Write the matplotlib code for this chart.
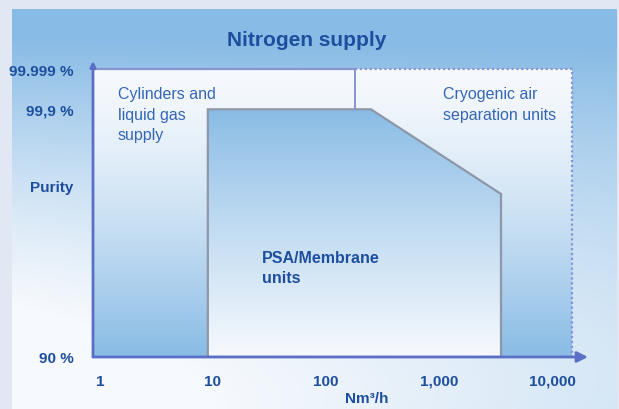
import numpy as np
import matplotlib
matplotlib.use('Agg')
import matplotlib.pyplot as plt
from matplotlib.patches import Polygon, Rectangle

plt.rcParams['font.family'] = ['Liberation Sans', 'DejaVu Sans']

# data (x in Nm3/h on a log scale, y in a schematic purity scale: 0 = 90 %, 1 = 99.999 %)
x_ticks = [1, 10, 100, 1000, 10000]
x_tick_labels = ['1', '10', '100', '1,000', '10,000']
y_ticks = [0, 0.86, 1.0]
y_tick_labels = ['90 %', '99,9 %', '99.999 %']
purity_label_y = 0.594

psa_x = [9, 9, 250, 3540, 3540]
psa_y = [0, 0.86, 0.86, 0.566, 0]
region_right = 15000   # right edge of the cryogenic field
divider_x = 180        # line between cylinders and cryogenic at the top
region_top = 1.0

W, H = 619, 410
dark = '#1d4f9e'
label_col = '#3566b6'
axis_col = '#5b6fc6'
blue = np.array([0x88, 0xbb, 0xe5]) / 255
white = np.array([0xf6, 0xf9, 0xfd]) / 255

fig = plt.figure(figsize=(W / 100, H / 100), dpi=100)
fig.patch.set_facecolor('#e1e8f4')

# outer panel with gradient
bg = fig.add_axes([12 / W, 0, 605 / W, 400 / H])
bg.axis('off')
yy, xx = np.mgrid[0:1:200j, 0:1:200j]
b = np.clip((1 - yy) ** 1.6 * 1.3 + 0.45 * xx * yy - 0.15, 0, 1)
img = white[None, None, :] * (1 - b[..., None]) + blue[None, None, :] * b[..., None]
bg.imshow(img, extent=[0, 1, 0, 1], aspect='auto', origin='upper')
bg.set_xlim(0, 1)
bg.set_ylim(0, 1)

# main axes: y-axis at px 93, x arrow tip at px 588, x-axis at px 358, y arrow tip at px 62
ax = fig.add_axes([93 / W, (H - 358) / H, (588 - 93) / W, (358 - 62) / H])
ax.set_xscale('log')
ax.set_xlim(10 ** -0.062, 10 ** 4.319)
ax.set_ylim(0, (358 - 62) / 288)
ax.patch.set_alpha(0)
for s in ax.spines.values():
    s.set_visible(False)

# white -> blue gradient over the whole field
field = Rectangle((ax.get_xlim()[0], 0), region_right - ax.get_xlim()[0], region_top,
                  transform=ax.transData, facecolor='none', edgecolor='none')
ax.add_patch(field)
t = np.linspace(0, 1, 256) ** 1.4
grad = white[None, :] * (1 - t[:, None]) + blue[None, :] * t[:, None]
top_frac = region_top / ax.get_ylim()[1]
im1 = ax.imshow(grad[:, None, :], extent=[0, 1, 0, top_frac], transform=ax.transAxes,
                aspect='auto', origin='upper', zorder=1)
im1.set_clip_path(field)

# PSA / membrane polygon: blue -> white
psa = Polygon(np.column_stack([psa_x, psa_y]), closed=True, transform=ax.transData,
              facecolor='none', edgecolor='#8d97a8', lw=1.6, zorder=3)
ax.add_patch(psa)
t2 = np.linspace(0, 1, 256) ** 0.9
grad2 = blue[None, :] * (1 - t2[:, None]) + white[None, :] * t2[:, None]
psa_top = max(psa_y) / ax.get_ylim()[1]
im2 = ax.imshow(grad2[:, None, :], extent=[0, 1, 0, psa_top], transform=ax.transAxes,
                aspect='auto', origin='upper', zorder=2)
im2.set_clip_path(psa)

# field borders
ax.plot([ax.get_xlim()[0], divider_x], [region_top, region_top], color='#8695d2', lw=1.6, zorder=4)
ax.plot([divider_x, divider_x], [max(psa_y), region_top], color='#8695d2', lw=1.4, zorder=4)
ax.plot([divider_x, region_right, region_right], [region_top, region_top, 0],
        color='#8695d2', lw=1.6, ls=(0, (1, 1.2)), zorder=4)

# axes with arrows
ax.annotate('', xy=(1, 0), xytext=(0, 0), xycoords='axes fraction',
            arrowprops=dict(arrowstyle='-|>', color=axis_col, lw=2, mutation_scale=16,
                            shrinkA=0, shrinkB=0), zorder=5)
ax.annotate('', xy=(0, 1), xytext=(0, 0), xycoords='axes fraction',
            arrowprops=dict(arrowstyle='-|>', color=axis_col, lw=2, mutation_scale=8,
                            shrinkA=0, shrinkB=0), zorder=5)

ax.set_xticks(x_ticks)
ax.set_xticklabels(x_tick_labels, fontsize=11, fontweight='bold', color=dark)
ax.set_xticks([], minor=True)
ax.set_yticks(y_ticks + [purity_label_y])
ax.set_yticklabels(y_tick_labels + ['Purity'], fontsize=11, fontweight='bold', color=dark)
ax.tick_params(axis='x', length=0, pad=12)
ax.tick_params(axis='y', length=0, pad=14)

ax.text(0.51, -0.14, 'Nm³/h', transform=ax.transAxes, ha='left', va='center',
        fontsize=11, fontweight='bold', color=dark)

# region labels
ax.text(1.44, 0.94, 'Cylinders and\nliquid gas\nsupply', ha='left', va='top',
        fontsize=11.5, color=label_col, linespacing=1.45, zorder=6)
ax.text(1085, 0.94, 'Cryogenic air\nseparation units', ha='left', va='top',
        fontsize=11.5, color=label_col, linespacing=1.45, zorder=6)
ax.text(27, 0.37, 'PSA/Membrane\nunits', ha='left', va='top',
        fontsize=11.5, fontweight='bold', color=dark, linespacing=1.4, zorder=6)

fig.text(307 / W, 1 - 41 / H, 'Nitrogen supply', ha='center', va='center',
         fontsize=15, fontweight='bold', color=dark)

fig.savefig('out.png', dpi=100, facecolor=fig.get_facecolor())
